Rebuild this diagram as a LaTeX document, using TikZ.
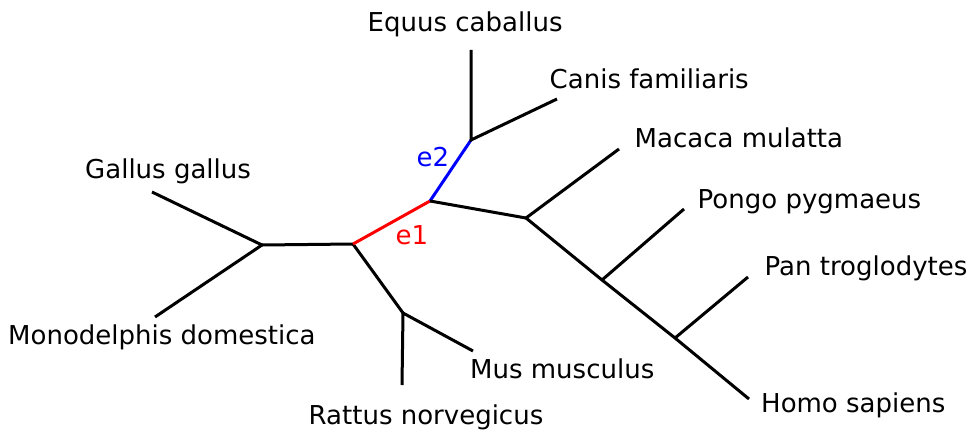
\documentclass[tikz,border=0pt]{standalone}
\usepackage{fontspec}
\setmainfont{DejaVu Sans}
\begin{document}
\begin{tikzpicture}[x=1pt,y=-1pt,
  branch/.style={line width=3pt,black},
  lbl/.style={anchor=base west,inner sep=0pt,font=\fontsize{26}{30}\selectfont},
  elbl/.style={anchor=base west,inner sep=0pt,font=\fontsize{26}{30}\selectfont}]
\useasboundingbox (0,0) rectangle (971,433);
% junctions
\coordinate (A) at (262,245);
\coordinate (B) at (353,244);
\coordinate (C) at (430,201);
\coordinate (D) at (471,140);
\coordinate (E) at (526,218);
\coordinate (F) at (602,280);
\coordinate (G) at (675,338);
\coordinate (H) at (403,313);
% tips
\coordinate (tGallus) at (152,192);
\coordinate (tMono) at (155,317);
\coordinate (tEquus) at (471,50);
\coordinate (tCanis) at (557,99);
\coordinate (tMacaca) at (619,149);
\coordinate (tPongo) at (684,209);
\coordinate (tPan) at (748,277);
\coordinate (tHomo) at (749,399);
\coordinate (tRattus) at (402,385);
\coordinate (tMus) at (473,351);
% branches
\draw[branch] (tGallus) -- (A) -- (tMono);
\draw[branch] (A) -- (B);
\draw[branch] (B) -- (H);
\draw[branch] (tRattus) -- (H) -- (tMus);
\draw[branch,red] (B) -- (C);
\draw[branch,blue] (C) -- (D);
\draw[branch] (tEquus) -- (D) -- (tCanis);
\draw[branch] (C) -- (E);
\draw[branch] (tMacaca) -- (E) -- (F) -- (G) -- (tHomo);
\draw[branch] (F) -- (tPongo);
\draw[branch] (G) -- (tPan);
% labels
\node[lbl] (lEquus) at (367.5,31.5) {Equus caballus};
\node[lbl] (lCanis) at (549.5,89) {Canis familiaris};
\node[lbl] (lMacaca) at (634.5,147.5) {Macaca mulatta};
\node[lbl] (lPongo) at (697.5,208) {Pongo pygmaeus};
\node[lbl] (lPan) at (764.5,275.5) {Pan troglodytes};
\node[lbl] (lHomo) at (761,412) {Homo sapiens};
\node[lbl] (lGallus) at (85,178.5) {Gallus gallus};
\node[lbl] (lMono) at (8,344.5) {Monodelphis domestica};
\node[lbl] (lMus) at (470,378.5) {Mus musculus};
\node[lbl] (lRattus) at (308.5,424.5) {Rattus norvegicus};
\node[elbl,blue] (le2) at (416.5,166.5) {e2};
\node[elbl,red] (le1) at (395.5,244.5) {e1};
\end{tikzpicture}
\end{document}
